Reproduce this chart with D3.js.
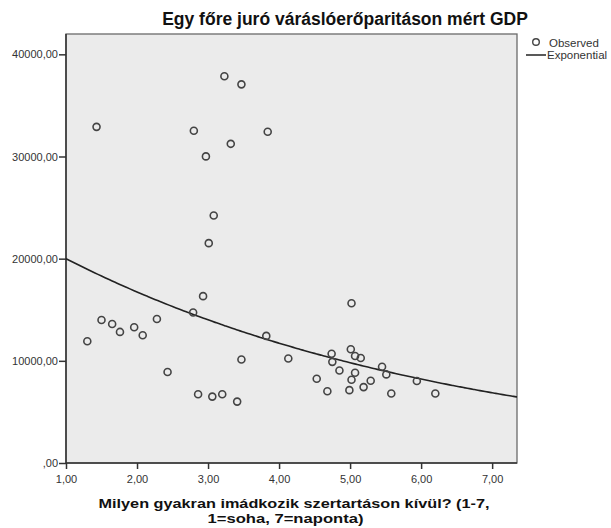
<!DOCTYPE html>
<html>
<head>
<meta charset="utf-8">
<script src="https://cdn.jsdelivr.net/npm/d3@7"></script>
<style>
  body { margin: 0; background: #fff; }
  svg text { font-family: "Liberation Sans", Arial, sans-serif; }
</style>
</head>
<body>
<svg width="611" height="528"></svg>
<script>
const prayer = [1.43, 3.23, 3.47, 2.80, 3.84, 3.32, 2.97, 3.08, 3.01,
    1.30, 1.50, 1.65, 1.76, 1.96, 2.08, 2.28, 2.43, 2.79, 2.93, 2.86, 3.06, 3.20, 3.41, 3.47, 3.82, 4.13,
    5.02, 5.01, 4.74, 5.07, 5.15, 4.75, 4.85, 5.45, 5.07, 5.51, 4.53, 5.02, 5.29, 5.94, 5.19, 4.68, 4.99, 5.58, 6.20];
const gdp = [32900, 37850, 37060, 32520, 32420, 31240, 30010, 24230, 21520,
    11920, 14000, 13610, 12830, 13290, 12510, 14100, 8910, 14730, 16330, 6730, 6500, 6730, 6010, 10130, 12440, 10230,
    15640, 11130, 10700, 10480, 10280, 9900, 9050, 9420, 8840, 8670, 8250, 8150, 8050, 8030, 7430, 7030, 7130, 6800, 6800];
const xTicks = [1, 2, 3, 4, 5, 6, 7];
const yTicks = [0, 10000, 20000, 30000, 40000];
// exponential fit y = a * exp(b * x)
const expA = 23900, expB = -0.178;

var svg = d3.select("svg"),
    margin = {left: 66, top: 34, right: 94, bottom: 65},
    width = +svg.attr("width") - margin.left - margin.right,
    height = +svg.attr("height") - margin.top - margin.bottom;

var x = d3.scaleLinear().domain([1, 7.35]).range([margin.left, margin.left + width]);
var y = d3.scaleLinear().domain([0, 41990]).range([margin.top + height, margin.top]);

var loc = d3.formatLocale({decimal: ",", thousands: "", grouping: [3], currency: ["", ""]});
var fmt = function(d) {
    var s = loc.format(".2f")(d);
    return s.replace(/^0,/, ",");
};

// title
svg.append("text")
    .attr("x", 345).attr("y", 25)
    .attr("text-anchor", "middle")
    .style("font-size", "17.5px").style("font-weight", "bold")
    .attr("fill", "#111")
    .text("Egy főre juró váráslóerőparitáson mért GDP");

// plot background
svg.append("rect")
    .attr("x", margin.left).attr("y", margin.top)
    .attr("width", width).attr("height", height)
    .attr("fill", "#ebebeb")
    .attr("stroke", "#6a6a6a").attr("stroke-width", 1.3);

// axes
var yAxis = svg.append("g")
    .attr("transform", "translate(" + margin.left + ",0)")
    .call(d3.axisLeft(y).tickValues(yTicks).tickFormat(fmt).tickSize(7).tickPadding(1));
var xAxis = svg.append("g")
    .attr("transform", "translate(0," + (margin.top + height) + ")")
    .call(d3.axisBottom(x).tickValues(xTicks).tickFormat(fmt).tickSize(6).tickPadding(6));

[yAxis, xAxis].forEach(function(a) {
    a.select(".domain").attr("stroke", "#333").attr("stroke-width", 1.5);
    a.selectAll(".tick line").attr("stroke", "#333").attr("stroke-width", 1.5);
    a.selectAll(".tick text")
        .attr("fill", "#333")
        .style("font-size", "11px")
        .style("font-family", "'Liberation Sans', Arial, sans-serif");
});
yAxis.select(".domain").attr("d", "M0," + (margin.top + height) + "V" + margin.top);
xAxis.select(".domain").attr("d", "M" + margin.left + ",0H" + (margin.left + width));

// x label
var xl = svg.append("text")
    .attr("text-anchor", "middle")
    .style("font-size", "13.5px").style("font-weight", "bold")
    .attr("fill", "#111");
xl.append("tspan").attr("x", 294).attr("y", 508)
    .attr("textLength", 391).attr("lengthAdjust", "spacingAndGlyphs")
    .text("Milyen gyakran imádkozik szertartáson kívül? (1-7,");
xl.append("tspan").attr("x", 285.5).attr("y", 523)
    .attr("textLength", 156).attr("lengthAdjust", "spacingAndGlyphs")
    .text("1=soha, 7=naponta)");

// exponential curve
var curveX = d3.range(1, 7.351, 0.05);
var line = d3.line()
    .x(function(d) { return x(d); })
    .y(function(d) { return y(expA * Math.exp(expB * d)); })
    .curve(d3.curveBasis);
svg.append("path")
    .datum(curveX)
    .attr("d", line)
    .attr("fill", "none")
    .attr("stroke", "#222")
    .attr("stroke-width", 1.6);

// observed points
svg.append("g")
    .selectAll("circle")
    .data(prayer)
    .enter()
    .append("circle")
    .attr("cx", function(d) { return x(d); })
    .attr("cy", function(d, i) { return y(gdp[i]); })
    .attr("r", 3.5)
    .attr("fill", "none")
    .attr("stroke", "#444")
    .attr("stroke-width", 1.6);

// legend
var leg = svg.append("g");
leg.append("circle")
    .attr("cx", 536).attr("cy", 42).attr("r", 3.3)
    .attr("fill", "none").attr("stroke", "#444").attr("stroke-width", 1.4);
leg.append("text")
    .attr("x", 549).attr("y", 47)
    .style("font-size", "11.5px").attr("fill", "#333")
    .text("Observed");
leg.append("line")
    .attr("x1", 526).attr("x2", 546).attr("y1", 55).attr("y2", 55)
    .attr("stroke", "#222").attr("stroke-width", 1.5);
leg.append("text")
    .attr("x", 547).attr("y", 59)
    .style("font-size", "11.5px").attr("fill", "#333")
    .text("Exponential");
</script>
</body>
</html>
